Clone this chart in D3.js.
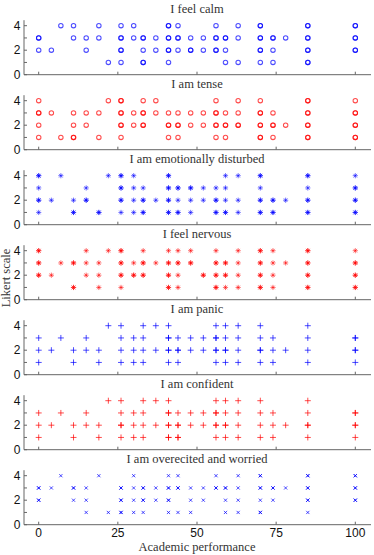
<!DOCTYPE html>
<html>
<head>
<meta charset="utf-8">
<script src="https://cdn.jsdelivr.net/npm/d3@7"></script>
<style>
  body { margin: 0; background: #fff; }
  svg { display: block; }
</style>
</head>
<body>
<svg width="374" height="555"></svg>
<script>
// panel titles, marker kind and colour
const titles = ["I feel calm", "I am tense", "I am emotionally disturbed", "I feel nervous",
    "I am panic", "I am confident", "I am overecited and worried"];
const markers = ["o", "o", "*", "*", "+", "+", "x"];
const colors = ["#0000ff", "#ff0000", "#0000ff", "#ff0000", "#0000ff", "#ff0000", "#0000ff"];

const xTicks = [0, 25, 50, 75, 100];
const yTicks = [0, 1, 2, 3, 4];
const yLabels = [0, 2, 4];

// points per row (Likert 4..1); a value listed twice marks a repeated answer
const calm = {
    4: [7, 11, 19, 26, 30, 41, 41, 44, 56, 63, 70, 70, 85, 85, 100, 100],
    3: [0, 0, 11, 15, 19, 26, 26, 30, 33, 33, 37, 41, 41, 44, 44, 48, 52, 56, 56, 59, 59, 63, 70, 70, 74, 74, 78, 85, 85, 100, 100],
    2: [0, 4, 15, 26, 26, 33, 37, 41, 41, 44, 48, 48, 52, 56, 56, 59, 70, 70, 74, 85, 85, 100, 100],
    1: [22, 26, 33, 33, 41, 59, 63, 70, 74, 85, 85]
};
const tense = {
    4: [0, 22, 26, 26, 33, 37, 56, 63, 70, 85, 85, 100],
    3: [0, 0, 4, 11, 15, 19, 26, 26, 30, 33, 33, 37, 41, 44, 48, 52, 56, 56, 59, 63, 70, 70, 74, 85, 85, 100, 100],
    2: [0, 11, 15, 26, 26, 30, 33, 33, 41, 41, 44, 44, 48, 52, 56, 56, 59, 59, 63, 63, 70, 70, 74, 74, 78, 85, 85, 100, 100],
    1: [0, 7, 11, 11, 19, 26, 41, 44, 56, 59, 70, 70, 74, 85, 85, 100, 100]
};
const disturbed = {
    4: [0, 0, 7, 22, 26, 26, 30, 41, 41, 59, 63, 70, 70, 85, 85, 100],
    3: [0, 15, 26, 26, 30, 33, 41, 41, 44, 44, 48, 48, 52, 56, 59, 70, 85, 100, 100],
    2: [0, 0, 4, 11, 15, 15, 26, 26, 30, 33, 33, 37, 41, 41, 44, 48, 52, 56, 56, 59, 63, 70, 70, 74, 74, 78, 85, 85, 100, 100],
    1: [0, 11, 11, 19, 19, 26, 30, 33, 33, 41, 41, 44, 44, 48, 56, 56, 59, 59, 63, 70, 70, 74, 74, 85, 85, 100, 100]
};
const nervous = {
    4: [0, 0, 15, 22, 26, 26, 33, 41, 44, 48, 56, 63, 70, 70, 74, 85, 85, 100],
    3: [0, 0, 7, 11, 11, 15, 19, 26, 26, 30, 33, 33, 37, 41, 41, 44, 44, 48, 48, 56, 56, 59, 59, 63, 70, 70, 74, 78, 85, 85, 100, 100],
    2: [0, 0, 4, 15, 19, 26, 26, 30, 30, 33, 33, 41, 41, 44, 52, 52, 56, 56, 59, 59, 63, 70, 70, 74, 85, 85, 100, 100],
    1: [11, 11, 19, 26, 41, 41, 44, 56, 56, 59, 63, 70, 70, 74, 85, 85, 100, 100]
};
const panic = {
    4: [22, 26, 33, 37, 41, 56, 59, 63, 70, 85],
    3: [0, 7, 15, 26, 30, 33, 41, 41, 44, 48, 52, 56, 56, 59, 63, 70, 74, 85, 100, 100],
    2: [0, 4, 11, 15, 19, 26, 30, 33, 37, 41, 41, 44, 44, 48, 52, 56, 56, 59, 59, 63, 70, 70, 74, 78, 85, 100, 100],
    1: [0, 11, 19, 26, 30, 33, 41, 44, 56, 59, 63, 70, 74, 85, 100]
};
const confident = {
    4: [22, 26, 33, 37, 41, 56, 59, 63, 70, 85],
    3: [0, 7, 15, 26, 30, 33, 41, 41, 44, 48, 52, 56, 56, 59, 63, 70, 74, 85, 100, 100],
    2: [0, 4, 11, 15, 19, 26, 26, 30, 33, 37, 41, 41, 44, 44, 48, 52, 56, 56, 59, 59, 63, 70, 74, 78, 85, 85, 100, 100],
    1: [0, 11, 19, 26, 30, 33, 41, 41, 44, 44, 56, 59, 63, 70, 74, 85, 100]
};
const worried = {
    4: [7, 19, 30, 41, 44, 56, 63, 70, 70, 85, 85, 100, 100],
    3: [0, 0, 4, 11, 11, 15, 26, 26, 30, 33, 33, 37, 41, 41, 44, 44, 48, 52, 56, 56, 59, 59, 63, 70, 70, 74, 74, 78, 85, 85, 100, 100],
    2: [0, 0, 11, 15, 26, 26, 30, 33, 33, 37, 41, 41, 48, 52, 59, 63, 70, 74, 85, 85, 100, 100],
    1: [15, 22, 26, 26, 30, 33, 41, 44, 48, 59, 63, 70, 70, 85]
};
const panels = [calm, tense, disturbed, nervous, panic, confident, worried];

const svg = d3.select("svg");
const x = d3.scaleLinear().domain([0, 100]).range([38.7, 355.3]);
const y = d3.scaleLinear().domain([0, 4]).range([0, -49]);
const left = 24, right = 371, step = 75, base0 = 74.7;

function marker(g, kind, color) {
    if (kind === "o") {
        g.append("circle").attr("r", 2.2).attr("fill", "none")
            .attr("stroke", color).attr("stroke-width", 1.1);
        return;
    }
    let d, w = 1.0;
    if (kind === "+") d = "M-3,0H3M0,-3V3";
    if (kind === "x") d = "M-1.6,-1.6L1.6,1.6M-1.6,1.6L1.6,-1.6";
    if (kind === "*") {
        d = "M-2.6,0H2.6M0,-2.6V2.6M-1.8,-1.8L1.8,1.8M-1.8,1.8L1.8,-1.8";
        w = 0.8;
    }
    g.append("path").attr("d", d).attr("stroke", color).attr("stroke-width", w).attr("fill", "none");
}

panels.forEach((p, i) => {
    const base = base0 + step * i;
    const g = svg.append("g").attr("transform", `translate(0,${base})`);

    g.append("text").attr("x", 197).attr("y", -62)
        .attr("text-anchor", "middle")
        .style("font-family", "'Liberation Serif', serif").style("font-size", "12.5px")
        .attr("fill", "#333").text(titles[i]);

    // axis lines
    g.append("line").attr("x1", left).attr("x2", right).attr("y1", 0).attr("y2", 0)
        .attr("stroke", "#666").attr("stroke-width", 1);
    g.append("line").attr("x1", left).attr("x2", left).attr("y1", 0).attr("y2", -54.5)
        .attr("stroke", "#666").attr("stroke-width", 1);

    g.selectAll(".xt").data(xTicks).enter().append("line")
        .attr("x1", d => x(d)).attr("x2", d => x(d)).attr("y1", 0).attr("y2", -3)
        .attr("stroke", "#666");
    g.selectAll(".yt").data(yTicks).enter().append("line")
        .attr("x1", left).attr("x2", left + 3).attr("y1", d => y(d)).attr("y2", d => y(d))
        .attr("stroke", "#666");
    g.selectAll(".yl").data(yLabels).enter().append("text")
        .attr("x", 20.5).attr("y", d => y(d) + 4.2)
        .attr("text-anchor", "end")
        .style("font-family", "'Liberation Sans', Arial, sans-serif").style("font-size", "12px")
        .attr("fill", "#111").text(d => d);

    // points
    const pts = [];
    [4, 3, 2, 1].forEach(v => p[v].forEach(a => pts.push([a, v])));
    pts.forEach(pt => {
        const m = g.append("g").attr("transform", `translate(${x(pt[0])},${y(pt[1])})`)
            .attr("opacity", 0.7);
        marker(m, markers[i], colors[i]);
    });

    if (i === panels.length - 1) {
        g.selectAll(".xl").data(xTicks).enter().append("text")
            .attr("x", d => x(d)).attr("y", 12.5)
            .attr("text-anchor", "middle")
            .style("font-family", "'Liberation Sans', Arial, sans-serif").style("font-size", "12px")
            .attr("fill", "#111").text(d => d);
    }
});

svg.append("text").attr("x", 197).attr("y", 551)
    .attr("text-anchor", "middle")
    .style("font-family", "'Liberation Serif', serif").style("font-size", "12.5px")
    .attr("fill", "#333").text("Academic performance");

svg.append("text").attr("transform", "translate(10,278) rotate(-90)")
    .attr("text-anchor", "middle")
    .style("font-family", "'Liberation Serif', serif").style("font-size", "12.5px")
    .attr("fill", "#333").text("Likert scale");
</script>
</body>
</html>
